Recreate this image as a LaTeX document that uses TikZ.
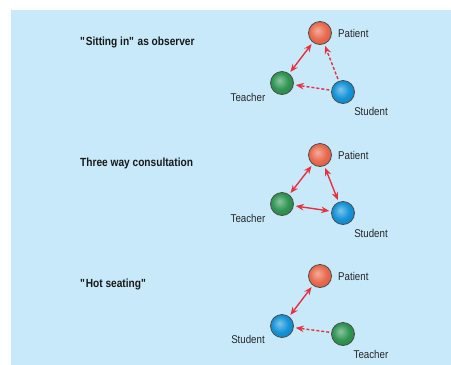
\documentclass[tikz,border=0pt]{standalone}
\usepackage{fontspec}
\setmainfont{Liberation Sans}[FakeStretch=0.86]
\usetikzlibrary{arrows.meta}
\definecolor{bg}{HTML}{C8E9FA}
\definecolor{arr}{HTML}{E63240}
\definecolor{cpat}{HTML}{E96A4E}
\definecolor{cteach}{HTML}{2F9552}
\definecolor{cstud}{HTML}{1493D8}
\pgfdeclareradialshading{patshade}{\pgfpoint{-6bp}{6bp}}{color(0bp)=(cpat!55!white); color(18bp)=(cpat); color(32bp)=(cpat!88!black); color(50bp)=(cpat!80!black)}
\pgfdeclareradialshading{teachshade}{\pgfpoint{-6bp}{6bp}}{color(0bp)=(cteach!55!white); color(18bp)=(cteach); color(32bp)=(cteach!88!black); color(50bp)=(cteach!80!black)}
\pgfdeclareradialshading{studshade}{\pgfpoint{-6bp}{6bp}}{color(0bp)=(cstud!55!white); color(18bp)=(cstud); color(32bp)=(cstud!88!black); color(50bp)=(cstud!80!black)}
\tikzset{
  x=1pt,y=-1pt,
  ball/.style={circle,minimum size=23pt,inner sep=0pt,draw=black!70,line width=0.8pt},
  pat/.style={ball,shading=patshade},
  teach/.style={ball,shading=teachshade},
  stud/.style={ball,shading=studshade},
  lbl/.style={font=\fontsize{11.3}{13}\selectfont,text=black!85,inner sep=0pt},
  ttl/.style={font=\bfseries\fontsize{11.8}{14}\selectfont,text=black!90,anchor=west,inner sep=0pt},
  both/.style={arr,line width=1.4pt,{Stealth[length=8pt,width=6.5pt]}-{Stealth[length=8pt,width=6.5pt]},shorten <=2pt,shorten >=2pt},
  obs/.style={arr,line width=1.4pt,dash pattern=on 3pt off 2pt,-{Stealth[length=8pt,width=6.5pt]},shorten <=2pt,shorten >=2pt}
}
\begin{document}
\begin{tikzpicture}
\useasboundingbox (0,0) rectangle (451,365);
\fill[bg] (11,10) rectangle (451,365);
% panel 1
\node[ttl] (t1) at (80,42) {\textquotedbl Sitting in\textquotedbl{} as observer};
\node[pat] (p1) at (320,33) {};
\node[teach] (e1) at (282,83) {};
\node[stud] (s1) at (343,92) {};
\node[lbl,anchor=west] (lp1) at (338,33) {Patient};
\node[lbl] (le1) at (248,97) {Teacher};
\node[lbl] (ls1) at (371,111) {Student};
\draw[both] (p1) -- (e1);
\draw[obs] (s1) -- (p1);
\draw[obs] (s1) -- (e1);
% panel 2
\node[ttl] (t2) at (80,163) {Three way consultation};
\node[pat] (p2) at (320,155) {};
\node[teach] (e2) at (282,204) {};
\node[stud] (s2) at (343,213) {};
\node[lbl,anchor=west] (lp2) at (338,155) {Patient};
\node[lbl] (le2) at (248,218) {Teacher};
\node[lbl] (ls2) at (371,233) {Student};
\draw[both] (p2) -- (e2);
\draw[both] (p2) -- (s2);
\draw[both] (e2) -- (s2);
% panel 3
\node[ttl] (t3) at (80,284) {\textquotedbl Hot seating\textquotedbl};
\node[pat] (p3) at (320,276) {};
\node[stud] (s3) at (282,326) {};
\node[teach] (e3) at (343,334) {};
\node[lbl,anchor=west] (lp3) at (338,276) {Patient};
\node[lbl] (ls3) at (248,339) {Student};
\node[lbl] (le3) at (371,354) {Teacher};
\draw[both] (p3) -- (s3);
\draw[obs] (e3) -- (s3);
\end{tikzpicture}
\end{document}
